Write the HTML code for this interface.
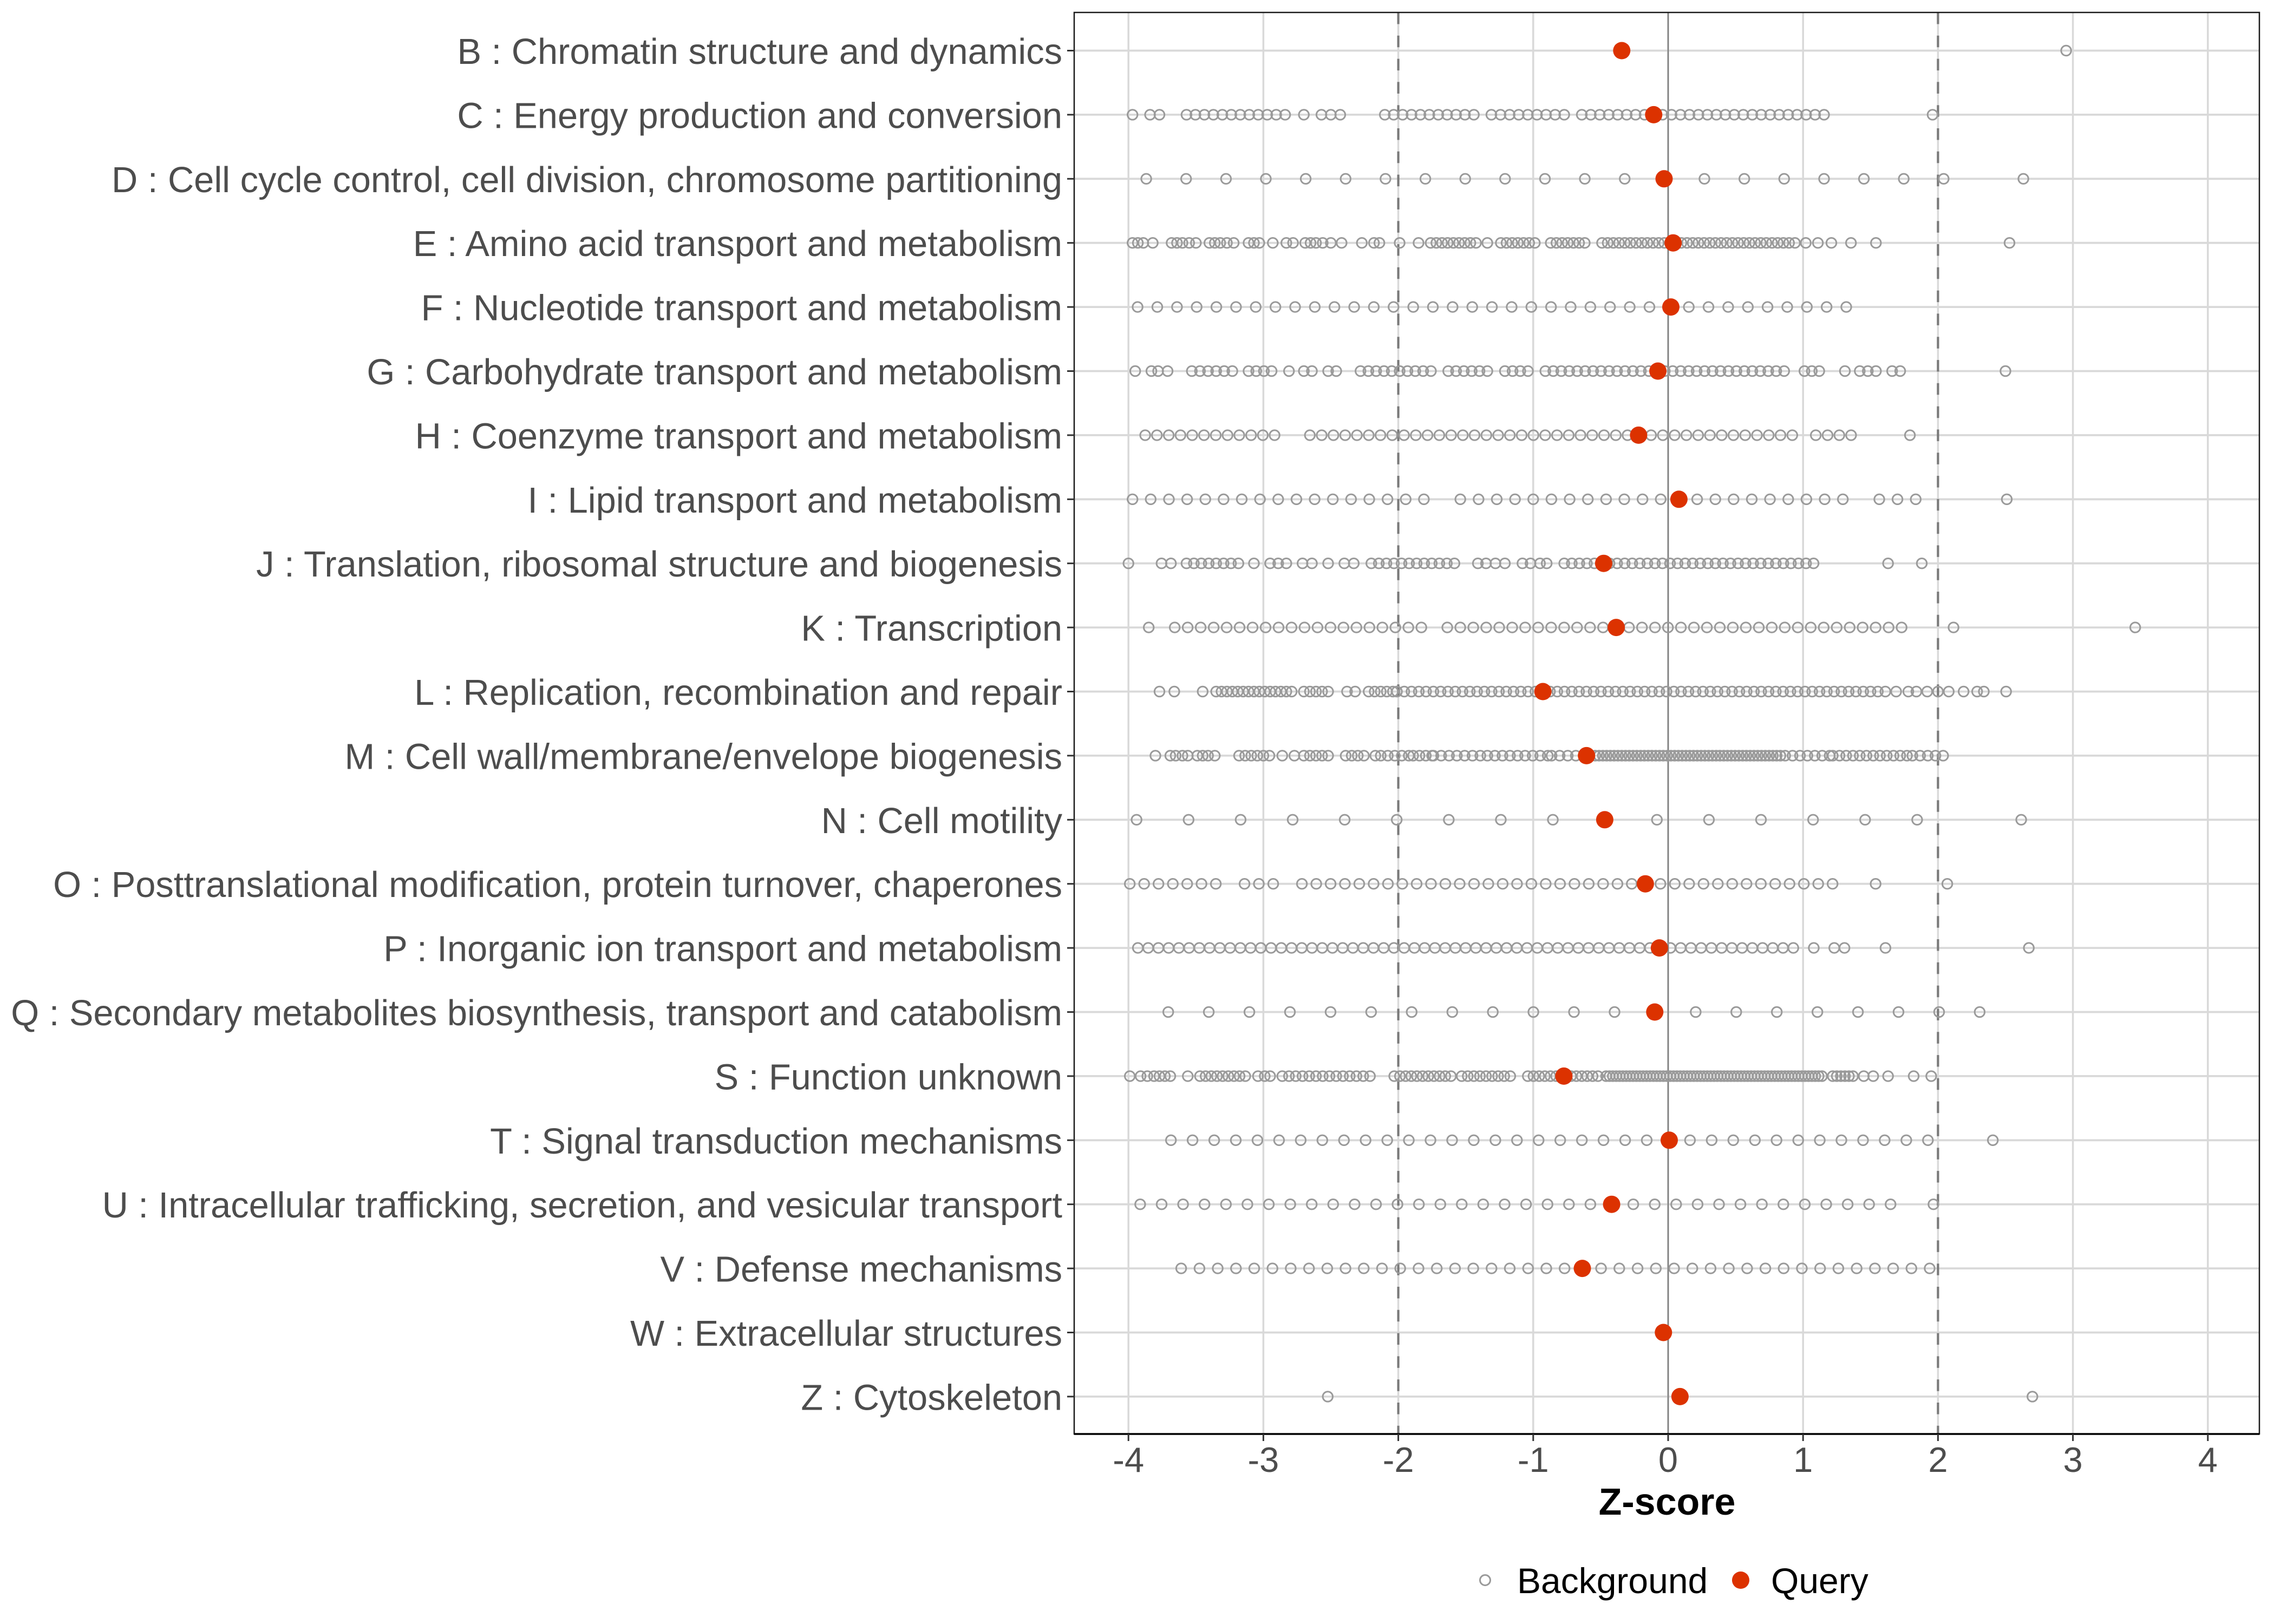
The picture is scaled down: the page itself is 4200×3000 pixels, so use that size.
<!DOCTYPE html>
<html>
<head>
<meta charset="utf-8">
<style>
  html, body { margin: 0; padding: 0; background: #ffffff; }
  svg { display: block; }
  text { font-family: "Liberation Sans", Arial, sans-serif; }
</style>
</head>
<body>
<svg id="chart" width="4200" height="3000" viewBox="0 0 4200 3000" xmlns="http://www.w3.org/2000/svg">
  <rect x="0" y="0" width="4200" height="3000" fill="#ffffff"/>
  <rect x="1984" y="23" width="2189" height="2626" fill="#ffffff"/>

  <g stroke="#d9d9d9" stroke-width="3.5">
    <line x1="2084.2" y1="23" x2="2084.2" y2="2649"/>
    <line x1="2333.4" y1="23" x2="2333.4" y2="2649"/>
    <line x1="2582.6" y1="23" x2="2582.6" y2="2649"/>
    <line x1="2831.8" y1="23" x2="2831.8" y2="2649"/>
    <line x1="3081" y1="23" x2="3081" y2="2649"/>
    <line x1="3330.2" y1="23" x2="3330.2" y2="2649"/>
    <line x1="3579.4" y1="23" x2="3579.4" y2="2649"/>
    <line x1="3828.6" y1="23" x2="3828.6" y2="2649"/>
    <line x1="4077.8" y1="23" x2="4077.8" y2="2649"/>
  </g>
  <g stroke="#d9d9d9" stroke-width="3.8">
    <line x1="1984" y1="93.5" x2="4173" y2="93.5"/>
    <line x1="1984" y1="211.9" x2="4173" y2="211.9"/>
    <line x1="1984" y1="330.3" x2="4173" y2="330.3"/>
    <line x1="1984" y1="448.7" x2="4173" y2="448.7"/>
    <line x1="1984" y1="567.1" x2="4173" y2="567.1"/>
    <line x1="1984" y1="685.5" x2="4173" y2="685.5"/>
    <line x1="1984" y1="803.9" x2="4173" y2="803.9"/>
    <line x1="1984" y1="922.3" x2="4173" y2="922.3"/>
    <line x1="1984" y1="1040.7" x2="4173" y2="1040.7"/>
    <line x1="1984" y1="1159.1" x2="4173" y2="1159.1"/>
    <line x1="1984" y1="1277.5" x2="4173" y2="1277.5"/>
    <line x1="1984" y1="1395.9" x2="4173" y2="1395.9"/>
    <line x1="1984" y1="1514.3" x2="4173" y2="1514.3"/>
    <line x1="1984" y1="1632.7" x2="4173" y2="1632.7"/>
    <line x1="1984" y1="1751.1" x2="4173" y2="1751.1"/>
    <line x1="1984" y1="1869.5" x2="4173" y2="1869.5"/>
    <line x1="1984" y1="1987.9" x2="4173" y2="1987.9"/>
    <line x1="1984" y1="2106.3" x2="4173" y2="2106.3"/>
    <line x1="1984" y1="2224.7" x2="4173" y2="2224.7"/>
    <line x1="1984" y1="2343.1" x2="4173" y2="2343.1"/>
    <line x1="1984" y1="2461.5" x2="4173" y2="2461.5"/>
    <line x1="1984" y1="2579.9" x2="4173" y2="2579.9"/>
  </g>

  <line x1="2582.6" y1="23" x2="2582.6" y2="2649" stroke="#7a7a7a" stroke-width="4.2" stroke-dasharray="21.5 21.3"/>
  <line x1="3579.4" y1="23" x2="3579.4" y2="2649" stroke="#7a7a7a" stroke-width="4.2" stroke-dasharray="21.5 21.3"/>
  <line x1="3081" y1="23" x2="3081" y2="2649" stroke="#7f7f7f" stroke-width="2.6"/>

  <g id="bg" fill="none" stroke="#9a9a9a" stroke-width="3"></g>
  <g id="qp" fill="#dc3200"></g>

  <rect x="1984" y="23" width="2189" height="2626" fill="none" stroke="#1a1a1a" stroke-width="2.5"/>
  <line x1="1984" y1="2649" x2="4173" y2="2649" stroke="#000000" stroke-width="3.5"/>

  <g stroke="#333333" stroke-width="3">
    <line x1="1971" y1="93.5" x2="1984" y2="93.5"/>
    <line x1="1971" y1="211.9" x2="1984" y2="211.9"/>
    <line x1="1971" y1="330.3" x2="1984" y2="330.3"/>
    <line x1="1971" y1="448.7" x2="1984" y2="448.7"/>
    <line x1="1971" y1="567.1" x2="1984" y2="567.1"/>
    <line x1="1971" y1="685.5" x2="1984" y2="685.5"/>
    <line x1="1971" y1="803.9" x2="1984" y2="803.9"/>
    <line x1="1971" y1="922.3" x2="1984" y2="922.3"/>
    <line x1="1971" y1="1040.7" x2="1984" y2="1040.7"/>
    <line x1="1971" y1="1159.1" x2="1984" y2="1159.1"/>
    <line x1="1971" y1="1277.5" x2="1984" y2="1277.5"/>
    <line x1="1971" y1="1395.9" x2="1984" y2="1395.9"/>
    <line x1="1971" y1="1514.3" x2="1984" y2="1514.3"/>
    <line x1="1971" y1="1632.7" x2="1984" y2="1632.7"/>
    <line x1="1971" y1="1751.1" x2="1984" y2="1751.1"/>
    <line x1="1971" y1="1869.5" x2="1984" y2="1869.5"/>
    <line x1="1971" y1="1987.9" x2="1984" y2="1987.9"/>
    <line x1="1971" y1="2106.3" x2="1984" y2="2106.3"/>
    <line x1="1971" y1="2224.7" x2="1984" y2="2224.7"/>
    <line x1="1971" y1="2343.1" x2="1984" y2="2343.1"/>
    <line x1="1971" y1="2461.5" x2="1984" y2="2461.5"/>
    <line x1="1971" y1="2579.9" x2="1984" y2="2579.9"/>
  </g>

  <g fill="#4d4d4d" font-size="66.8" text-anchor="end">
    <text x="1962" y="118">B : Chromatin structure and dynamics</text>
    <text x="1962" y="236.4">C : Energy production and conversion</text>
    <text x="1962" y="354.8">D : Cell cycle control, cell division, chromosome partitioning</text>
    <text x="1962" y="473.2">E : Amino acid transport and metabolism</text>
    <text x="1962" y="591.6">F : Nucleotide transport and metabolism</text>
    <text x="1962" y="710">G : Carbohydrate transport and metabolism</text>
    <text x="1962" y="828.4">H : Coenzyme transport and metabolism</text>
    <text x="1962" y="946.8">I : Lipid transport and metabolism</text>
    <text x="1962" y="1065.2">J : Translation, ribosomal structure and biogenesis</text>
    <text x="1962" y="1183.6">K : Transcription</text>
    <text x="1962" y="1302">L : Replication, recombination and repair</text>
    <text x="1962" y="1420.4">M : Cell wall/membrane/envelope biogenesis</text>
    <text x="1962" y="1538.8">N : Cell motility</text>
    <text x="1962" y="1657.2">O : Posttranslational modification, protein turnover, chaperones</text>
    <text x="1962" y="1775.6">P : Inorganic ion transport and metabolism</text>
    <text x="1962" y="1894">Q : Secondary metabolites biosynthesis, transport and catabolism</text>
    <text x="1962" y="2012.4">S : Function unknown</text>
    <text x="1962" y="2130.8">T : Signal transduction mechanisms</text>
    <text x="1962" y="2249.2">U : Intracellular trafficking, secretion, and vesicular transport</text>
    <text x="1962" y="2367.6">V : Defense mechanisms</text>
    <text x="1962" y="2486">W : Extracellular structures</text>
    <text x="1962" y="2604.4">Z : Cytoskeleton</text>
  </g>

  <g stroke="#333333" stroke-width="3">
    <line x1="2084.2" y1="2649" x2="2084.2" y2="2662"/>
    <line x1="2333.4" y1="2649" x2="2333.4" y2="2662"/>
    <line x1="2582.6" y1="2649" x2="2582.6" y2="2662"/>
    <line x1="2831.8" y1="2649" x2="2831.8" y2="2662"/>
    <line x1="3081" y1="2649" x2="3081" y2="2662"/>
    <line x1="3330.2" y1="2649" x2="3330.2" y2="2662"/>
    <line x1="3579.4" y1="2649" x2="3579.4" y2="2662"/>
    <line x1="3828.6" y1="2649" x2="3828.6" y2="2662"/>
    <line x1="4077.8" y1="2649" x2="4077.8" y2="2662"/>
  </g>
  <g fill="#4d4d4d" font-size="65" text-anchor="middle">
    <text x="2084.2" y="2719">-4</text>
    <text x="2333.4" y="2719">-3</text>
    <text x="2582.6" y="2719">-2</text>
    <text x="2831.8" y="2719">-1</text>
    <text x="3081" y="2719">0</text>
    <text x="3330.2" y="2719">1</text>
    <text x="3579.4" y="2719">2</text>
    <text x="3828.6" y="2719">3</text>
    <text x="4077.8" y="2719">4</text>
  </g>

  <text x="3079" y="2798" font-size="70" font-weight="bold" fill="#000000" text-anchor="middle">Z-score</text>

  <circle cx="2743" cy="2919" r="9.5" fill="none" stroke="#9a9a9a" stroke-width="3"/>
  <text x="2802" y="2943" font-size="66" fill="#000000">Background</text>
  <circle cx="3215" cy="2919" r="16" fill="#dc3200"/>
  <text x="3271" y="2943" font-size="66" fill="#000000">Query</text>
</svg>

<script>
(function(){
  var NS = "http://www.w3.org/2000/svg";
  function X(v){ return 3081 + 249.2*v; }
  function Y(i){ return 93.5 + i*118.4; }
  function R(a,b,s){ var o=[]; for(var v=a; v<=b+s*0.3; v+=s) o.push(v); return o; }
  function L(b,s,ks){
    var o=[];
    ks.forEach(function(k){
      if (Array.isArray(k)) { for (var j=k[0]; j<=k[1]; j++) o.push(b+j*s); }
      else o.push(b+k*s);
    });
    return o;
  }
  function C(){ var o=[]; for (var i=0;i<arguments.length;i++){ var a=arguments[i]; if(Array.isArray(a)) o=o.concat(a); else o.push(a);} return o; }

  var rows = [
    { bg:[2.95], q:-0.344 },
    { bg:C(-3.97,-3.84,-3.77, R(-3.57,-2.84,0.0665), -2.70,-2.57,-2.50,-2.43,
           R(-2.10,-1.44,0.066), R(-1.31,-0.77,0.0675), R(-0.64,1.16,0.0665), 1.96), q:-0.107 },
    { bg:L(-3.868,0.2955,[[0,20],22]), q:-0.03 },
    { bg:C(-3.97,-3.93,-3.89,-3.82, -3.68,-3.64,-3.60,-3.55,-3.50, -3.40,-3.36,-3.32,-3.27,-3.22,
           -3.11,-3.07,-3.03,-2.93, -2.83,-2.78, -2.69,-2.65,-2.61,-2.56,-2.50, -2.42,
           -2.27,-2.18,-2.14, -1.99, -1.85, R(-1.76,-1.43,0.042), -1.34, R(-1.24,-0.96,0.042),
           R(-0.87,-0.59,0.042), R(-0.49,0.90,0.042), 0.94,1.02,1.11,1.21,1.355,1.54,2.53), q:0.037 },
    { bg:L(-3.932,0.1459,[[0,36]]), q:0.02 },
    { bg:C(-3.95,-3.83,-3.78,-3.71, R(-3.53,-3.23,0.06), R(-3.11,-2.94,0.057), -2.81,-2.70,-2.64,-2.52,-2.46,
           R(-2.28,-1.76,0.058), R(-1.63,-1.34,0.058), R(-1.21,-1.04,0.057), R(-0.91,0.895,0.059),
           1.01,1.065,1.12,1.31,1.42,1.48,1.54,1.66,1.72,2.5), q:-0.076 },
    { bg:L(-3.876,0.0872,[[0,11],[14,55],[57,60],65]), q:-0.219 },
    { bg:L(-3.97,0.135,[[0,16],[18,39],[41,43],48]), q:0.08 },
    { bg:C(-4.0,-3.755,-3.685, R(-3.57,-3.19,0.055), -3.07,-2.95,-2.89,-2.83,-2.71,-2.64,-2.52,-2.40,-2.33,
           R(-2.2,-1.59,0.056), -1.41,-1.35,-1.28,-1.21, -1.08,-1.02,-0.95,-0.90, R(-0.77,1.08,0.056), 1.63,1.88), q:-0.478 },
    { bg:L(-3.657,0.0962,[-2,[0,19],[21,56],60,74]), q:-0.385 },
    // L
    { bg:C(-3.77,-3.66,-3.45, R(-3.35,-2.80,0.04), R(-2.70,-2.49,0.045), -2.38,-2.32, R(-2.22,-2.05,0.045),
           R(-2.01,1.556,0.054), 1.61,1.69,1.78, 1.84,1.92,2.0,2.08, 2.19,2.29,2.34,2.505), q:-0.928 },
    // M
    { bg:C(-3.80,-3.69,-3.65,-3.60,-3.56, -3.49,-3.45,-3.41,-3.36, R(-3.18,-2.94,0.045), -2.86,-2.77,
           R(-2.70,-2.49,0.045), R(-2.39,-2.24,0.045), -2.17, R(-2.13,-1.92,0.052), R(-1.89,-1.75,0.047),
           R(-1.74,-1.37,0.058), R(-1.34,-0.89,0.056), R(-0.864,-0.68,0.06),
           R(-0.54,0.84,0.028), R(0.867,1.2,0.055), R(1.22,1.77,0.05), R(1.81,2.04,0.057)), q:-0.605 },
    { bg:L(-3.94,0.3857,[[0,15],17]), q:-0.47 },
    { bg:L(-3.99,0.1063,[[0,6],[8,10],[12,49],52,57]), q:-0.169 },
    { bg:L(-3.93,0.0759,[[0,64],66,68,69,73,87]), q:-0.065 },
    { bg:L(-3.705,0.3007,[[0,20]]), q:-0.099 },
    { bg:C(-3.99,-3.91,-3.86,-3.81,-3.77,-3.73,-3.69, -3.56, R(-3.47,-3.12,0.042), -3.04,-2.99,-2.95,
           R(-2.86,-2.19,0.05), R(-2.03,-1.62,0.042), R(-1.53,-1.14,0.045), R(-1.04,-0.83,0.042),
           R(-0.72,-0.52,0.04), R(-0.46,1.15,0.025), R(1.22,1.38,0.03), 1.45,1.52,1.63,1.82,1.95), q:-0.773 },
    { bg:L(-3.685,0.1603,[[0,35],38]), q:0.008 },
    { bg:L(-3.913,0.1589,[[0,35],37]), q:-0.419 },
    { bg:L(-3.609,0.1353,[[0,41]]), q:-0.636 },
    { bg:[], q:-0.035 },
    { bg:[-2.523,2.70], q:0.088 }
  ];

  var gbg = document.getElementById("bg");
  var gq = document.getElementById("qp");
  rows.forEach(function(r,i){
    var y = Y(i);
    r.bg.forEach(function(v){
      var c = document.createElementNS(NS,"circle");
      c.setAttribute("cx", X(v).toFixed(1));
      c.setAttribute("cy", y.toFixed(1));
      c.setAttribute("r", "9.2");
      gbg.appendChild(c);
    });
    var q = document.createElementNS(NS,"circle");
    q.setAttribute("cx", X(r.q).toFixed(1));
    q.setAttribute("cy", y.toFixed(1));
    q.setAttribute("r", "16");
    gq.appendChild(q);
  });
})();
</script>
</body>
</html>
